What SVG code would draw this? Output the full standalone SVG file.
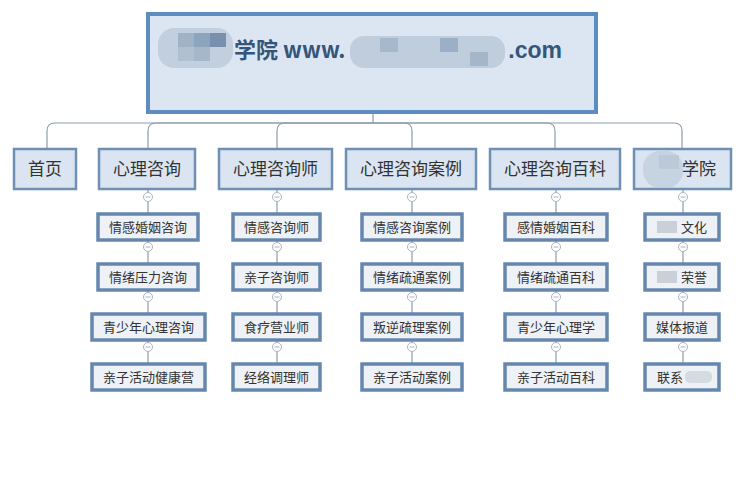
<svg xmlns="http://www.w3.org/2000/svg" width="741" height="485" viewBox="0 0 741 485">
<style>
.l1 rect{fill:#dbe5f1;stroke:#6e90b4;stroke-width:2.5}
.l2 rect{fill:#eef1f5;stroke:#6687ad;stroke-width:3.5}
.l1 text{font-family:"Noto Sans CJK SC","Liberation Sans",sans-serif;font-size:17px;fill:#333;text-anchor:middle}
.l2 text{font-family:"Noto Sans CJK SC","Liberation Sans",sans-serif;font-size:13px;fill:#333;text-anchor:middle}
.c path,.c line{fill:none;stroke:#8d9cad;stroke-width:1.2}
.btn circle{fill:#fff;stroke:#a9b4c0;stroke-width:1}
.btn line{stroke:#a9b4c0;stroke-width:1}
rect.blur{fill:#b8c7d7;stroke:none}
rect.blur2{fill:#c9d0d8;stroke:none}
rect.blur3{fill:#d5dbe2;stroke:none}
</style>
<rect width="741" height="485" fill="#fff"/>
<g id="connectors" class="c">
<line x1="373" y1="112" x2="373" y2="123"/>
<path d="M373,123 H55 Q47,123 47,131 V148"/>
<path d="M373,123 H156 Q148,123 148,131 V148"/>
<path d="M373,123 H285 Q277,123 277,131 V148"/>
<path d="M373,123 H404 Q412,123 412,131 V148"/>
<path d="M373,123 H547 Q555,123 555,131 V148"/>
<path d="M373,123 H674 Q682,123 682,131 V148"/>
<line x1="148" y1="190" x2="148" y2="363"/>
<line x1="277" y1="190" x2="277" y2="363"/>
<line x1="412" y1="190" x2="412" y2="363"/>
<line x1="556" y1="190" x2="556" y2="363"/>
<line x1="683" y1="190" x2="683" y2="363"/>
</g>
<g id="title">
<rect x="148" y="14" width="448" height="98" fill="#dce6f2" stroke="#5d8cc0" stroke-width="4"/>
<rect class="blur" x="158" y="28" width="75" height="40" rx="16" opacity="0.75"/>
<rect x="178" y="33" width="16" height="14" fill="#9fb2c6"/>
<rect x="194" y="33" width="16" height="14" fill="#8da4bd"/>
<rect x="210" y="33" width="16" height="14" fill="#7890ad"/>
<rect x="178" y="47" width="16" height="14" fill="#b0c0d1"/>
<rect x="194" y="47" width="16" height="14" fill="#a5b7ca"/>
<rect class="blur" x="350" y="36" width="155" height="32" rx="14" opacity="0.8"/>
<rect x="380" y="38" width="18" height="14" fill="#a6b8cb"/>
<rect x="440" y="38" width="18" height="14" fill="#9bb0c6"/>
<rect x="470" y="52" width="18" height="14" fill="#a3b6ca"/>
<text x="234" y="58" font-family="'Noto Sans CJK SC','Liberation Sans',sans-serif" font-size="22" font-weight="bold" fill="#35557a">学院 www.</text>
<text x="562" y="58" font-family="'Liberation Sans','Noto Sans',sans-serif" font-size="23" font-weight="bold" fill="#35557a" text-anchor="end">.com</text>
</g>
<g id="n-home" class="l1"><rect x="14" y="149" width="62" height="40"/><text x="45" y="175">首页</text></g>
<g id="n-zixun" class="l1"><rect x="99" y="149" width="96" height="40"/><text x="147" y="175">心理咨询</text></g>
<g id="n-zixunshi" class="l1"><rect x="219" y="149" width="113" height="40"/><text x="275.5" y="175">心理咨询师</text></g>
<g id="n-anli" class="l1"><rect x="346" y="149" width="130" height="40"/><text x="411" y="175">心理咨询案例</text></g>
<g id="n-baike" class="l1"><rect x="490" y="149" width="130" height="40"/><text x="555" y="175">心理咨询百科</text></g>
<g id="n-xueyuan" class="l1"><rect x="634" y="149" width="97" height="40"/><rect class="blur" x="643" y="151" width="40" height="37" rx="17" opacity="0.6"/><rect class="blur" x="659" y="155" width="20" height="14" opacity="0.8"/><text x="699" y="175">学院</text></g>

<g id="c1r1" class="l2"><rect x="98" y="214" width="100" height="26"/><text x="148" y="232">情感婚姻咨询</text></g>
<g id="c1r2" class="l2"><rect x="98" y="264" width="100" height="26"/><text x="148" y="282">情绪压力咨询</text></g>
<g id="c1r3" class="l2"><rect x="92" y="314" width="113" height="26"/><text x="148.5" y="332">青少年心理咨询</text></g>
<g id="c1r4" class="l2"><rect x="92" y="364" width="113" height="26"/><text x="148.5" y="382">亲子活动健康营</text></g>

<g id="c2r1" class="l2"><rect x="233" y="214" width="87" height="26"/><text x="276.5" y="232">情感咨询师</text></g>
<g id="c2r2" class="l2"><rect x="233" y="264" width="87" height="26"/><text x="276.5" y="282">亲子咨询师</text></g>
<g id="c2r3" class="l2"><rect x="233" y="314" width="87" height="26"/><text x="276.5" y="332">食疗营业师</text></g>
<g id="c2r4" class="l2"><rect x="233" y="364" width="87" height="26"/><text x="276.5" y="382">经络调理师</text></g>

<g id="c3r1" class="l2"><rect x="362" y="214" width="100" height="26"/><text x="412" y="232">情感咨询案例</text></g>
<g id="c3r2" class="l2"><rect x="362" y="264" width="100" height="26"/><text x="412" y="282">情绪疏通案例</text></g>
<g id="c3r3" class="l2"><rect x="362" y="314" width="100" height="26"/><text x="412" y="332">叛逆疏理案例</text></g>
<g id="c3r4" class="l2"><rect x="362" y="364" width="100" height="26"/><text x="412" y="382">亲子活动案例</text></g>

<g id="c4r1" class="l2"><rect x="505" y="214" width="102" height="26"/><text x="556" y="232">感情婚姻百科</text></g>
<g id="c4r2" class="l2"><rect x="505" y="264" width="102" height="26"/><text x="556" y="282">情绪疏通百科</text></g>
<g id="c4r3" class="l2"><rect x="505" y="314" width="102" height="26"/><text x="556" y="332">青少年心理学</text></g>
<g id="c4r4" class="l2"><rect x="505" y="364" width="102" height="26"/><text x="556" y="382">亲子活动百科</text></g>

<g id="c5r1" class="l2"><rect x="645" y="214" width="74" height="26"/><rect class="blur2" x="657" y="221" width="20" height="12"/><text x="694" y="232">文化</text></g>
<g id="c5r2" class="l2"><rect x="645" y="264" width="74" height="26"/><rect class="blur2" x="657" y="271" width="20" height="12"/><text x="694" y="282">荣誉</text></g>
<g id="c5r3" class="l2"><rect x="645" y="314" width="74" height="26"/><text x="682" y="332">媒体报道</text></g>
<g id="c5r4" class="l2"><rect x="645" y="364" width="74" height="26"/><text x="670" y="382">联系</text><rect class="blur3" x="685" y="371" width="27" height="12" rx="5"/></g>

<g id="buttons" class="btn">
<g transform="translate(148,197)"><circle r="4.5"/><line x1="-2.5" x2="2.5"/></g>
<g transform="translate(148,247)"><circle r="4.5"/><line x1="-2.5" x2="2.5"/></g>
<g transform="translate(148,297)"><circle r="4.5"/><line x1="-2.5" x2="2.5"/></g>
<g transform="translate(148,347)"><circle r="4.5"/><line x1="-2.5" x2="2.5"/></g>
<g transform="translate(277,197)"><circle r="4.5"/><line x1="-2.5" x2="2.5"/></g>
<g transform="translate(277,247)"><circle r="4.5"/><line x1="-2.5" x2="2.5"/></g>
<g transform="translate(277,297)"><circle r="4.5"/><line x1="-2.5" x2="2.5"/></g>
<g transform="translate(277,347)"><circle r="4.5"/><line x1="-2.5" x2="2.5"/></g>
<g transform="translate(412,197)"><circle r="4.5"/><line x1="-2.5" x2="2.5"/></g>
<g transform="translate(412,247)"><circle r="4.5"/><line x1="-2.5" x2="2.5"/></g>
<g transform="translate(412,297)"><circle r="4.5"/><line x1="-2.5" x2="2.5"/></g>
<g transform="translate(412,347)"><circle r="4.5"/><line x1="-2.5" x2="2.5"/></g>
<g transform="translate(556,197)"><circle r="4.5"/><line x1="-2.5" x2="2.5"/></g>
<g transform="translate(556,247)"><circle r="4.5"/><line x1="-2.5" x2="2.5"/></g>
<g transform="translate(556,297)"><circle r="4.5"/><line x1="-2.5" x2="2.5"/></g>
<g transform="translate(556,347)"><circle r="4.5"/><line x1="-2.5" x2="2.5"/></g>
<g transform="translate(683,197)"><circle r="4.5"/><line x1="-2.5" x2="2.5"/></g>
<g transform="translate(683,247)"><circle r="4.5"/><line x1="-2.5" x2="2.5"/></g>
<g transform="translate(683,297)"><circle r="4.5"/><line x1="-2.5" x2="2.5"/></g>
<g transform="translate(683,347)"><circle r="4.5"/><line x1="-2.5" x2="2.5"/></g>
</g>
</svg>
